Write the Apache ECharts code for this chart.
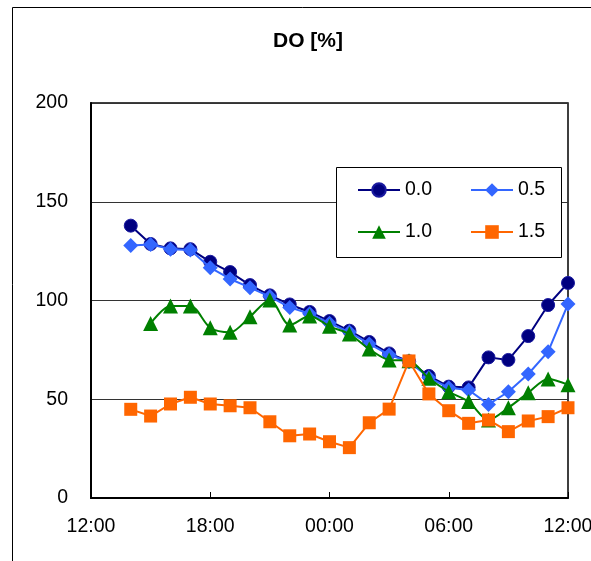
<!DOCTYPE html>
<html><head><meta charset="utf-8">
<script src="https://cdn.jsdelivr.net/npm/echarts@6/dist/echarts.min.js"></script>
<style>html,body{margin:0;padding:0;background:#fff}#c{width:591px;height:561px}</style>
</head><body><div id="c"></div>
<script>
// hourly samples from 14:00 to 12:00 next day
const times = ['14:00','15:00','16:00','17:00','18:00','19:00','20:00','21:00','22:00','23:00','00:00','01:00','02:00','03:00','04:00','05:00','06:00','07:00','08:00','09:00','10:00','11:00','12:00'];
const xTickLabels = ['12:00','18:00','00:00','06:00','12:00'];
const s00 = [137.9,128.6,126.4,126,119.6,114.4,107.8,102.6,98,94.2,89.6,84.7,79,73.2,69.2,61.8,56.4,56,71.2,69.9,82,97.7,108.9];
const s05 = [127.8,128.4,126,125.6,116.6,110.9,106.5,102,96.5,93.3,88.5,84,78,72.5,69,61,55.8,54.7,47.4,53.8,62.8,74.1,98.2];
const s10 = [null,88.4,97.2,97.2,86.2,83.9,91.8,100.3,87.6,92.2,86.9,83,75.4,69.9,69.5,60.6,53.8,48.8,39.5,45.7,53.3,60.3,57.4];
const s15 = [44.9,41.5,47.6,51,47.6,46.7,45.7,38.6,31.5,32.4,28.5,25.5,38.1,45,69.4,52.7,44.2,37.8,39.5,33.6,39,41.2,45.7];
const seriesNames = ['0.0','0.5','1.0','1.5'];

function toHour(t){ let h = parseInt(t.split(':')[0],10) - 12; if (h <= 0) h += 24; return h; }
const hours = times.map(toHour);
const pairs = arr => arr.map((v,i)=>[hours[i], v]);

const chart = echarts.init(document.getElementById('c'));
const font = 'Liberation Sans, Arial, sans-serif';
const fs = 19.5;
chart.setOption({
  backgroundColor:'#fff',
  animation:false,
  title:{text:'DO [%]', left:303, top:26, textAlign:'center',
    textStyle:{fontFamily:font, fontSize:21, fontWeight:'bold', color:'#000'}},
  grid:{left:91, right:23, top:103, bottom:63, show:true, borderColor:'#000', borderWidth:1.5,
    backgroundColor:'transparent', containLabel:false, outerBoundsMode:'none'},
  legend:[
    {data:['0.0','1.0'], orient:'vertical', left:357, top:180, padding:0, itemWidth:42, itemHeight:17, itemGap:22, z:6,
      textStyle:{fontFamily:font, fontSize:fs, color:'#000'}},
    {data:['0.5','1.5'], orient:'vertical', left:470, top:180, padding:0, itemWidth:42, itemHeight:17, itemGap:22, z:6,
      textStyle:{fontFamily:font, fontSize:fs, color:'#000'}}
  ],
  graphic:[
    {type:'rect', left:10, top:5, shape:{width:620, height:600}, style:{fill:'none', stroke:'#000', lineWidth:1}, z:-10},
    {type:'rect', left:336, top:167, shape:{width:225, height:90}, style:{fill:'#fff', stroke:'#000', lineWidth:1}, z:1}
  ],
  xAxis:{type:'value', min:0, max:24, interval:6,
    axisLine:{lineStyle:{color:'#000', width:2}},
    axisTick:{inside:true, length:6, lineStyle:{color:'#000', width:1}},
    splitLine:{show:false},
    axisLabel:{margin:19, fontFamily:font, fontSize:fs, color:'#000',
      formatter:v=>xTickLabels[Math.round(v/6)]}},
  yAxis:{type:'value', min:0, max:200, interval:50,
    axisLine:{show:true, lineStyle:{color:'#000', width:2}},
    axisTick:{show:false},
    splitLine:{lineStyle:{color:'#333', width:1}},
    axisLabel:{margin:23, fontFamily:font, fontSize:fs, color:'#000'}},
  series:[
    {name:seriesNames[0], type:'line', data:pairs(s00), symbol:'circle', symbolSize:13,
      lineStyle:{color:'#000080', width:2}, itemStyle:{color:'#000080', borderColor:'#1a1aa0', borderWidth:1}, z:2},
    {name:seriesNames[1], type:'line', data:pairs(s05), symbol:'diamond', symbolSize:15,
      lineStyle:{color:'#3366FF', width:2}, itemStyle:{color:'#3366FF'}, z:3},
    {name:seriesNames[2], type:'line', data:pairs(s10), symbol:'triangle', symbolSize:15, smooth:0.3,
      lineStyle:{color:'#008000', width:2}, itemStyle:{color:'#008000'}, z:4},
    {name:seriesNames[3], type:'line', data:pairs(s15), symbol:'rect', symbolSize:13,
      lineStyle:{color:'#FF6600', width:2}, itemStyle:{color:'#FF6600'}, z:5}
  ]
});
</script></body></html>
